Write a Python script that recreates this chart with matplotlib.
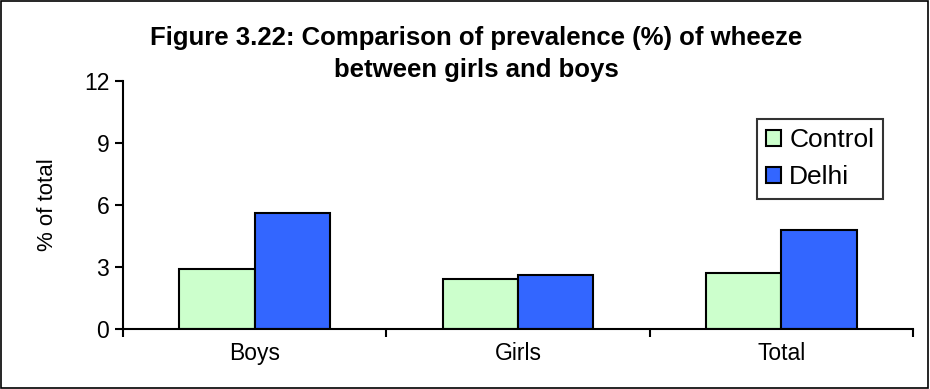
import matplotlib
matplotlib.use("Agg")
import matplotlib.pyplot as plt
import numpy as np
from matplotlib.patches import Rectangle

plt.rcParams['font.family'] = ['Liberation Sans', 'DejaVu Sans']

categories = ["Boys", "Girls", "Total"]
series_names = ["Control", "Delhi"]
control = [2.9, 2.4, 2.7]
delhi = [5.6, 2.6, 4.8]
yticks = [0, 3, 6, 9, 12]
title_lines = ["Figure 3.22: Comparison of prevalence (%) of wheeze", "between girls and boys"]
colors = ["#CCFFCC", "#3366FF"]

fig = plt.figure(figsize=(9.3, 3.89), dpi=100)
ax = fig.add_axes([0.1323, 0.1542, 0.8494, 0.6376])

x = np.arange(len(categories)) + 0.5
w = 0.286
ax.bar(x - w/2, control, width=w, color=colors[0], edgecolor='black', linewidth=1.5, label=series_names[0])
ax.bar(x + w/2, delhi, width=w, color=colors[1], edgecolor='black', linewidth=1.5, label=series_names[1])

ax.set_xlim(0, 3)
ax.set_ylim(0, 12)
ax.set_yticks(yticks)
ax.set_yticklabels([str(t) for t in yticks], fontsize=16.5)
ax.set_xticks([0, 1, 2, 3])
ax.set_xticklabels([])
ax.set_xticks(x, minor=True)
ax.set_xticklabels(categories, minor=True, fontsize=16.5)
ax.tick_params(axis='x', which='minor', length=0, pad=9)
ax.tick_params(axis='x', which='major', direction='out', length=6, width=1.5)
ax.tick_params(axis='y', direction='out', length=6, width=1.5, pad=4)
for s in ['top', 'right']:
    ax.spines[s].set_visible(False)
for s in ['left', 'bottom']:
    ax.spines[s].set_linewidth(1.5)
ax.set_ylabel("% of total", fontsize=16, va='center')
ax.yaxis.set_label_coords(-0.0962, 0.5)

fig.text(0.512, 1 - 45/389, title_lines[0], ha='center', va='baseline',
         fontsize=18.5, fontweight='bold')
fig.text(0.512, 1 - 77/389, title_lines[1], ha='center', va='baseline',
         fontsize=18.5, fontweight='bold')

leg = ax.legend(loc='upper left', bbox_to_anchor=(0.8025, 0.8468), fontsize=19,
                frameon=True, fancybox=False, edgecolor='black', handlelength=0.57,
                handleheight=0.57, handletextpad=0.3, borderpad=0.35, labelspacing=0.5,
                borderaxespad=0)
leg.get_frame().set_linewidth(1.5)

fig.patches.append(Rectangle((0.001, 0.002), 0.997, 0.996, transform=fig.transFigure,
                             fill=False, edgecolor='black', linewidth=1.2))

fig.savefig("out.png", dpi=100)
